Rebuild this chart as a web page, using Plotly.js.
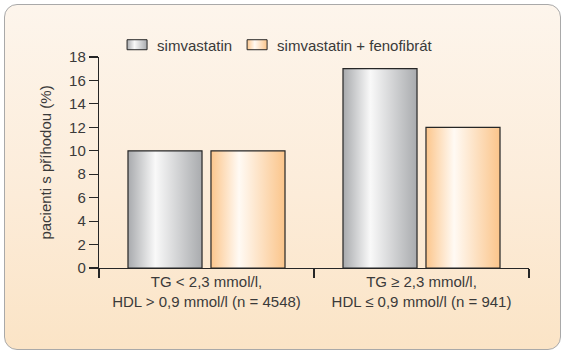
<!DOCTYPE html>
<html>
<head>
<meta charset="utf-8">
<script src="https://cdn.plot.ly/plotly-3.0.1.min.js"></script>
<style>
  html, body { margin: 0; padding: 0; background: #ffffff; }
  #wrap { position: relative; width: 568px; height: 354px; overflow: hidden; }
  #frame {
    position: absolute; left: 4px; top: 4px; width: 555px; height: 344px;
    border: 1.5px solid #a9a9a9; border-radius: 13px;
    background: linear-gradient(to bottom, #fdf5ec 0%, #fcecd9 55%, #fbe4c6 100%);
  }
  #chart { position: absolute; left: 0; top: 0; width: 568px; height: 354px; }
</style>
</head>
<body>
<div id="wrap">
  <div id="frame"></div>
  <div id="chart"></div>
</div>
<script>
const categories = [
  "TG < 2,3 mmol/l,<br>HDL > 0,9 mmol/l (n = 4548)",
  "TG \u2265 2,3 mmol/l,<br>HDL \u2264 0,9 mmol/l (n = 941)"
];
const seriesNames = ["simvastatin", "simvastatin + fenofibrát"];
const simvastatin = [10, 17];
const simvaFeno = [10, 12];
const yTicks = [0, 2, 4, 6, 8, 10, 12, 14, 16, 18];

const fontFam = '"Liberation Sans", Arial, Helvetica, sans-serif';
const txt = '#3a3a3a';
const fs = 15;

const traces = [
  { type: 'bar', name: seriesNames[0], x: categories, y: simvastatin,
    marker: { color: '#c8cacc', line: { color: '#262626', width: 1.2 } }, hoverinfo: 'skip' },
  { type: 'bar', name: seriesNames[1], x: categories, y: simvaFeno,
    marker: { color: '#fde0bd', line: { color: '#262626', width: 1.2 } }, hoverinfo: 'skip' }
];

const layout = {
  width: 568, height: 354,
  margin: { l: 99, r: 39, t: 57, b: 86 },
  paper_bgcolor: 'rgba(0,0,0,0)',
  plot_bgcolor: 'rgba(0,0,0,0)',
  font: { family: fontFam, size: fs, color: txt },
  barmode: 'group',
  bargap: 0.228,
  bargroupgap: 0.108,
  showlegend: true,
  legend: {
    orientation: 'h', x: 0.042, xanchor: 'left', y: 1.057, yanchor: 'middle',
    bgcolor: 'rgba(0,0,0,0)', font: { family: fontFam, size: fs, color: txt },
    traceorder: 'normal'
  },
  xaxis: {
    type: 'category', showline: true, linecolor: '#262626', linewidth: 1.2,
    ticks: 'outside', tickson: 'boundaries', ticklen: 9, tickcolor: '#262626', tickwidth: 1.2,
    showgrid: false, zeroline: false, fixedrange: true,
    tickfont: { family: fontFam, size: fs, color: txt }
  },
  yaxis: {
    range: [0, 18], tickvals: yTicks, ticktext: yTicks.map(String),
    showline: true, linecolor: '#262626', linewidth: 1.2,
    ticks: 'outside', ticklen: 9, tickcolor: '#262626', tickwidth: 1.2,
    showgrid: false, zeroline: false, fixedrange: true,
    tickfont: { family: fontFam, size: fs, color: txt },
    title: { text: 'pacienti s příhodou (%)', standoff: 13, font: { family: fontFam, size: fs, color: txt } }
  }
};

function addGradients(gd) {
  const svgNS = 'http://www.w3.org/2000/svg';
  const svg = gd.querySelector('svg.main-svg');
  let defs = svg.querySelector('defs');
  if (!defs) { defs = document.createElementNS(svgNS, 'defs'); svg.insertBefore(defs, svg.firstChild); }
  const grads = {
    gGray: [['0%', '#a8aaad'], ['37%', '#f9f9f9'], ['100%', '#a9abae']],
    gOrange: [['0%', '#fcc68c'], ['38%', '#fffaf4'], ['100%', '#fbc58b']]
  };
  Object.keys(grads).forEach(id => {
    const lg = document.createElementNS(svgNS, 'linearGradient');
    lg.setAttribute('id', id);
    lg.setAttribute('x1', '0'); lg.setAttribute('y1', '0');
    lg.setAttribute('x2', '1'); lg.setAttribute('y2', '0');
    grads[id].forEach(s => {
      const st = document.createElementNS(svgNS, 'stop');
      st.setAttribute('offset', s[0]); st.setAttribute('stop-color', s[1]);
      lg.appendChild(st);
    });
    defs.appendChild(lg);
  });
  const ids = ['gGray', 'gOrange'];
  gd.querySelectorAll('.barlayer .trace').forEach((t, i) => {
    t.querySelectorAll('path').forEach(p => { p.style.fill = 'url(#' + ids[i] + ')'; });
  });
  gd.querySelectorAll('.legend .traces').forEach((t, i) => {
    t.querySelectorAll('.legendpoints path').forEach(p => {
      p.setAttribute('d', 'M10,5H-10V-5H10Z');
      p.style.fill = 'url(#' + ids[i] + ')';
      p.style.stroke = '#262626';
      p.style.strokeWidth = '1px';
    });
  });
}

Plotly.newPlot('chart', traces, layout, { staticPlot: true, displayModeBar: false })
  .then(addGradients);
</script>
</body>
</html>
